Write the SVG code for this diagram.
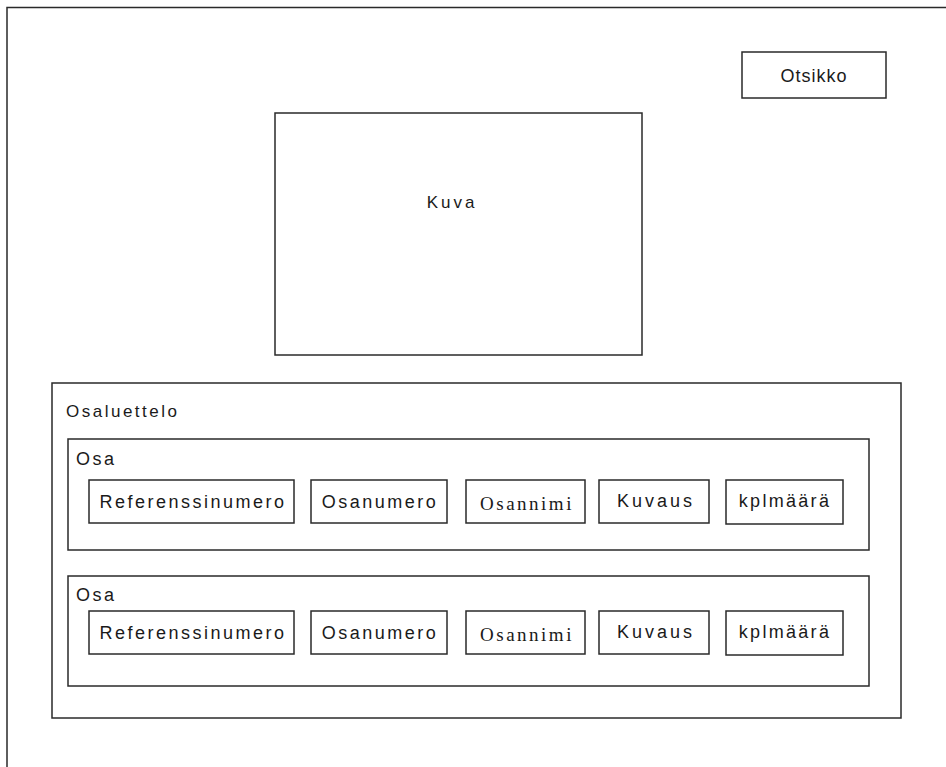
<svg xmlns="http://www.w3.org/2000/svg" width="946" height="767" viewBox="0 0 946 767">
<style>
rect{fill:#fff;stroke:#2a2a2a;stroke-width:1.5}
text{font-family:"Liberation Sans",Arial,sans-serif;font-size:18px;fill:#1a1a1a}
.c{text-anchor:middle}
.f{letter-spacing:2.5px}
.s{font-family:"Liberation Serif","Times New Roman",serif;font-size:19px;letter-spacing:2.5px}
</style>
<rect x="0" y="0" width="946" height="767" style="stroke:none"/>
<g id="frame"><path d="M7 1000 V7.5 H1000" fill="none" stroke="#2a2a2a" stroke-width="1.5"/></g>
<g id="otsikko"><rect x="742" y="52" width="144" height="46"/><text x="814" y="82" class="c" style="letter-spacing:1px">Otsikko</text></g>
<g id="kuva"><rect x="275" y="113" width="367" height="242"/><text x="452" y="208" class="c" style="letter-spacing:3px;font-size:17px">Kuva</text></g>
<g id="osaluettelo"><rect x="52" y="383" width="849" height="335"/><text x="66" y="417" class="f" style="font-size:17px">Osaluettelo</text></g>
<g id="osa1">
<rect x="68" y="439" width="801" height="111"/><text x="76" y="465" class="f">Osa</text>
<g id="osa1-ref"><rect x="89" y="480" width="205" height="43"/><text x="193" y="508" class="c f">Referenssinumero</text></g>
<g id="osa1-nro"><rect x="311" y="480" width="136" height="43"/><text x="380" y="508" class="c f">Osanumero</text></g>
<g id="osa1-nimi"><rect x="466" y="480" width="119" height="43"/><text x="527" y="510" class="c s">Osannimi</text></g>
<g id="osa1-kuvaus"><rect x="599" y="480" width="110" height="43"/><text x="656" y="507" class="c" style="letter-spacing:3px">Kuvaus</text></g>
<g id="osa1-kpl"><rect x="726" y="480" width="117" height="44"/><text x="785" y="507" class="c" style="letter-spacing:2.3px">kplmäärä</text></g>
</g>
<g id="osa2">
<rect x="68" y="576" width="801" height="110"/><text x="76" y="601" class="f">Osa</text>
<g id="osa2-ref"><rect x="89" y="611" width="205" height="43"/><text x="193" y="639" class="c f">Referenssinumero</text></g>
<g id="osa2-nro"><rect x="311" y="611" width="136" height="43"/><text x="380" y="639" class="c f">Osanumero</text></g>
<g id="osa2-nimi"><rect x="466" y="611" width="119" height="43"/><text x="527" y="641" class="c s">Osannimi</text></g>
<g id="osa2-kuvaus"><rect x="599" y="611" width="110" height="43"/><text x="656" y="638" class="c" style="letter-spacing:3px">Kuvaus</text></g>
<g id="osa2-kpl"><rect x="726" y="611" width="117" height="44"/><text x="785" y="638" class="c" style="letter-spacing:2.3px">kplmäärä</text></g>
</g>
<g id="connectors"/>
</svg>
